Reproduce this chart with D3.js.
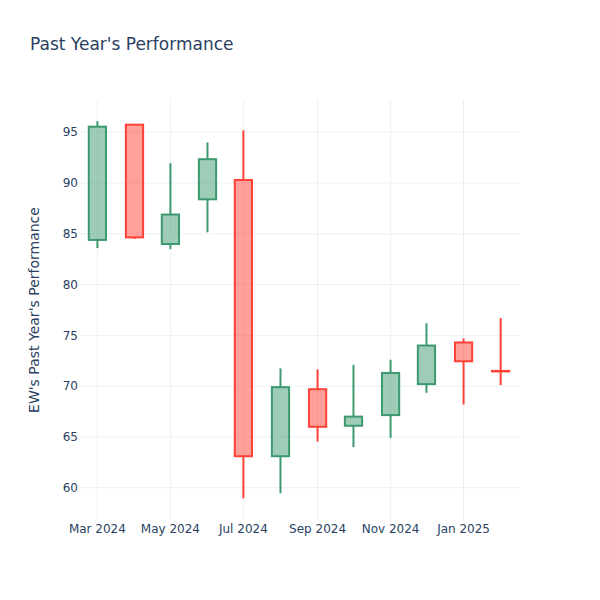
<!DOCTYPE html>
<html>
<head>
<meta charset="utf-8">
<script src="https://cdn.jsdelivr.net/npm/d3@7"></script>
<style>
  html, body { margin: 0; padding: 0; background: #fff; }
  svg { display: block; font-family: "DejaVu Sans", sans-serif; }
</style>
</head>
<body>
<svg id="chart" width="600" height="600"></svg>
<script>
const dates = ["2024-03-01","2024-04-01","2024-05-01","2024-06-01","2024-07-01","2024-08-01",
               "2024-09-01","2024-10-01","2024-11-01","2024-12-01","2025-01-01","2025-02-01"];
const open  = [84.4, 95.75, 84.0, 88.4, 90.3, 63.1, 69.7, 66.1, 67.15, 70.2, 74.3, 71.5];
const high  = [96.1, 95.8, 91.95, 94.0, 95.2, 71.75, 71.65, 72.1, 72.6, 76.2, 74.7, 76.7];
const low   = [83.6, 84.5, 83.5, 85.15, 58.95, 59.45, 64.55, 64.0, 64.9, 69.35, 68.2, 70.1];
const close = [95.55, 84.65, 86.9, 92.35, 63.1, 69.9, 66.0, 67.0, 71.3, 74.0, 72.45, 71.45];
const yTicks = [60, 65, 70, 75, 80, 85, 90, 95];
const xTickDates = ["2024-03-01","2024-05-01","2024-07-01","2024-09-01","2024-11-01","2025-01-01"];
const xTickLabels = ["Mar 2024","May 2024","Jul 2024","Sep 2024","Nov 2024","Jan 2025"];
const title = "Past Year's Performance";
const yTitle = "EW's Past Year's Performance";

const svg = d3.select("#chart");
const L = 80, R = 520, T = 100, B = 520;
const parse = d3.utcParse("%Y-%m-%d");

const x = d3.scaleUtc()
  .domain([new Date(Date.UTC(2024,1,15,11)), new Date(Date.UTC(2025,1,17,4))])
  .range([L, R]);
const y = d3.scaleLinear().domain([56.82, 98.18]).range([B, T]);

const grid = "#EBF0F8";
const textCol = "#2a3f5f";

// grid
svg.append("g").selectAll("line").data(yTicks).join("line")
  .attr("x1", L).attr("x2", R)
  .attr("y1", d => y(d)).attr("y2", d => y(d))
  .attr("stroke", grid).attr("stroke-width", 1);
svg.append("g").selectAll("line").data(xTickDates).join("line")
  .attr("x1", d => x(parse(d))).attr("x2", d => x(parse(d)))
  .attr("y1", T).attr("y2", B)
  .attr("stroke", grid).attr("stroke-width", 1);

// tick labels
svg.append("g").selectAll("text").data(yTicks).join("text")
  .attr("x", 78).attr("y", d => y(d)).attr("dy", "0.35em")
  .attr("text-anchor", "end").attr("font-size", 12).attr("fill", textCol)
  .text(d => d);
svg.append("g").selectAll("text").data(xTickDates).join("text")
  .attr("x", d => x(parse(d))).attr("y", 533)
  .attr("text-anchor", "middle").attr("font-size", 12).attr("fill", textCol)
  .text((d, i) => xTickLabels[i]);

// titles
svg.append("text").attr("x", 30).attr("y", 50)
  .attr("font-size", 17).attr("fill", textCol).text(title);
svg.append("text")
  .attr("transform", "translate(39,310) rotate(-90)")
  .attr("text-anchor", "middle").attr("font-size", 14).attr("fill", textCol)
  .text(yTitle);

// candles
const data = dates.map((d, i) => ({ date: parse(d), o: open[i], h: high[i], l: low[i], c: close[i] }));
const halfDays = 7.2 * 24 * 3600 * 1000;
const g = svg.append("g");
data.forEach(d => {
  const inc = d.c > d.o;
  const line = inc ? "#3D9970" : "#FF4136";
  const fill = inc ? "rgba(61,153,112,0.5)" : "rgba(255,65,54,0.5)";
  const cx = x(d.date);
  const hw = x(new Date(+d.date + halfDays)) - cx;
  const top = y(Math.max(d.o, d.c)), bot = y(Math.min(d.o, d.c));
  g.append("rect")
    .attr("x", cx - hw).attr("y", top)
    .attr("width", 2 * hw).attr("height", Math.max(0, bot - top))
    .attr("fill", fill).attr("stroke", line).attr("stroke-width", 2);
  g.append("line").attr("x1", cx).attr("x2", cx)
    .attr("y1", y(d.h)).attr("y2", top)
    .attr("stroke", line).attr("stroke-width", 2);
  g.append("line").attr("x1", cx).attr("x2", cx)
    .attr("y1", bot).attr("y2", y(d.l))
    .attr("stroke", line).attr("stroke-width", 2);
});
</script>
</body>
</html>
